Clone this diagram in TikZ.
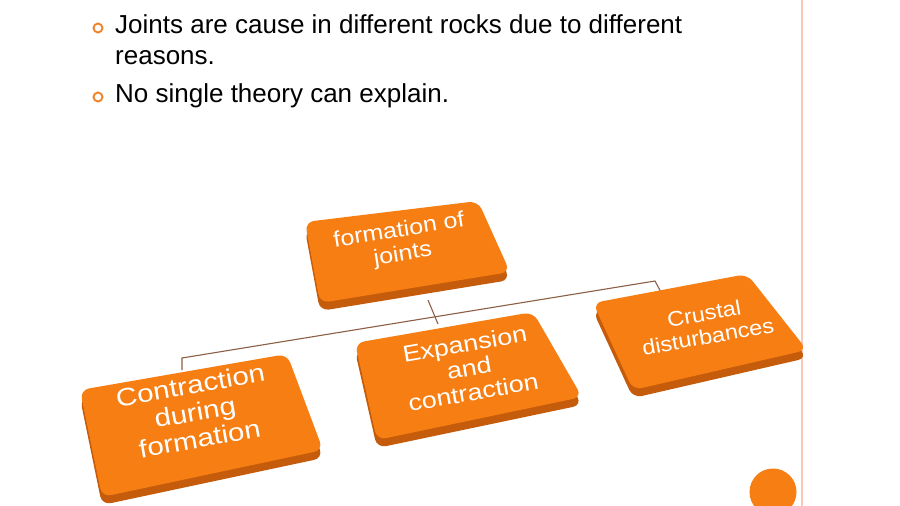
\documentclass[tikz,border=0pt]{standalone}
\usepackage{fontspec}
\setmainfont{Liberation Sans}
\begin{document}
\begin{tikzpicture}[x=1pt,y=-1pt,
  sidecol/.style={fill=boxdark, rounded corners=9pt},
  facecol/.style={fill=boxorange, rounded corners=9pt},
  bul/.style={draw=bulorange, line width=1.9pt, circle, inner sep=0pt, minimum size=9pt},
  btext/.style={anchor=base west, inner sep=0pt, font=\fontsize{26}{30}\selectfont, text=black},
  lbl/.style={text=white, align=center, inner sep=0pt},
  conn/.style={draw=connbrown, line width=1.1pt}]
\definecolor{boxorange}{RGB}{246,126,18}
\definecolor{boxdark}{RGB}{196,92,12}
\definecolor{bulorange}{RGB}{240,130,40}
\definecolor{connbrown}{RGB}{140,95,70}
\definecolor{linepink}{RGB}{250,200,185}
\useasboundingbox (0,0) rectangle (900,506);
\fill[white] (0,0) rectangle (900,506);
% right vertical line
\draw[linepink, line width=2pt] (801.5,0) coordinate (vlT) -- (801.5,506) coordinate (vlB);
% bottom circle
\fill[boxorange] (773,492) circle (23.5);
% bullets
\node[bul] (b1) at (98,28) {};
\node[bul] (b2) at (98,97) {};
\node[btext] (t1) at (115,33) {Joints are cause in different rocks due to different};
\node[btext] (t2) at (115,64) {reasons.};
\node[btext] (t3) at (115,102) {No single theory can explain.};
% connectors
\coordinate (topS) at (428,300);
\coordinate (expN) at (438,324);
\coordinate (cL) at (182,358);
\coordinate (cR) at (655,281);
\coordinate (conN) at (182,370);
\coordinate (cruN) at (662,294);
\draw[conn] (topS) -- (expN);
\draw[conn] (conN) -- (cL) -- (cR) -- (cruN);
% top box
\fill[sidecol] (305,230) -- (478,209) -- (510,280) -- (320,311) -- cycle;
\fill[facecol] (305,222) -- (478,201) -- (510,272) -- (320,303) -- cycle;
% contraction box
\fill[sidecol] (80,398) -- (287,362) -- (323,458) -- (102,505) -- cycle;
\fill[facecol] (80,390) -- (287,354) -- (323,450) -- (102,497) -- cycle;
% expansion box
\fill[sidecol] (355,351) -- (533,320) -- (582,405) -- (377,448) -- cycle;
\fill[facecol] (355,343) -- (533,312) -- (582,397) -- (377,440) -- cycle;
% crustal box
\fill[sidecol] (593,311) -- (747,282) -- (807,358) -- (633,398) -- cycle;
\fill[facecol] (593,303) -- (747,274) -- (807,350) -- (633,390) -- cycle;
% labels
\node[lbl, rotate=9, xscale=1.14, font=\fontsize{22}{24}\selectfont] (l0) at (401,243) {formation of\\joints};
\node[lbl, rotate=10, xscale=1.18, font=\fontsize{25}{27}\selectfont] (l1) at (195,412) {Contraction\\during\\formation};
\node[lbl, rotate=10, xscale=1.17, font=\fontsize{23}{24.5}\selectfont] (l2) at (469,368) {Expansion\\and\\contraction};
\node[lbl, rotate=10, xscale=1.12, font=\fontsize{21}{23}\selectfont] (l3) at (706,325) {Crustal\\disturbances};
\end{tikzpicture}
\end{document}
